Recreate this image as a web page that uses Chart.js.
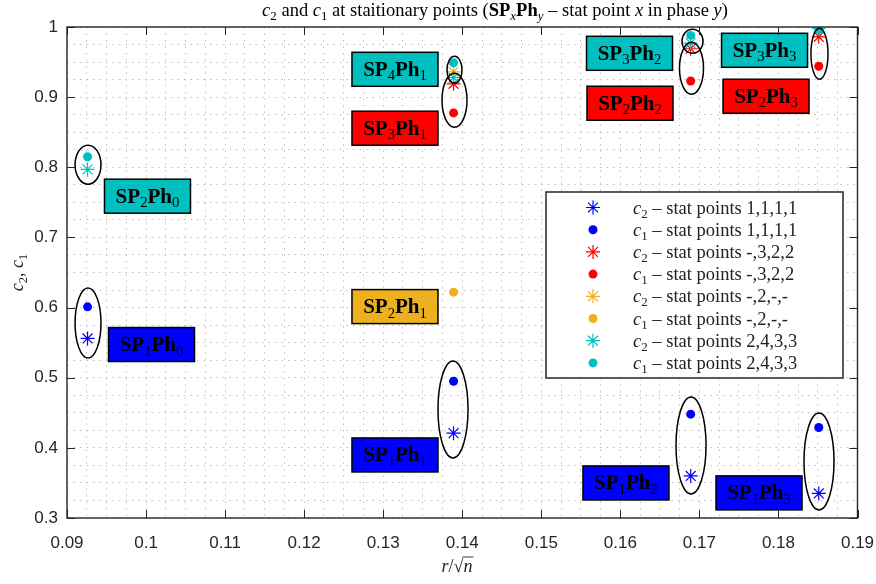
<!DOCTYPE html>
<html>
<head>
<meta charset="utf-8">
<script src="https://cdn.jsdelivr.net/npm/chart.js@4.4.1/dist/chart.umd.min.js"></script>
<style>
  html, body { margin: 0; padding: 0; background: #fff; }
</style>
</head>
<body>
<canvas id="chart" width="876" height="584"></canvas>
<script>
// Valores (r/sqrt(n) de cada fase)
const phaseX = [0.0926, 0.1389, 0.1689, 0.1851];

// c2 / c1 por grupo de puntos estacionarios (null = no existe en esa fase)
const c2Set1 = [0.556, 0.421, 0.360, 0.335];   // 1,1,1,1
const c1Set1 = [0.601, 0.495, 0.448, 0.429];
const c2Set2 = [null, 0.919, 0.969, 0.986];    // -,3,2,2
const c1Set2 = [null, 0.8775, 0.923, 0.944];
const c2Set3 = [null, 0.936, null, null];      // -,2,-,-
const c1Set3 = [null, 0.622, null, null];
const c2Set4 = [0.797, 0.928, 0.977, 0.998];   // 2,4,3,3
const c1Set4 = [0.815, 0.949, 0.988, 0.996];

const seriesLabels = [
    '{i:c}{s:2} \u2013 stat points 1,1,1,1',
    '{i:c}{s:1} \u2013 stat points 1,1,1,1',
    '{i:c}{s:2} \u2013 stat points -,3,2,2',
    '{i:c}{s:1} \u2013 stat points -,3,2,2',
    '{i:c}{s:2} \u2013 stat points -,2,-,-',
    '{i:c}{s:1} \u2013 stat points -,2,-,-',
    '{i:c}{s:2} \u2013 stat points 2,4,3,3',
    '{i:c}{s:1} \u2013 stat points 2,4,3,3'
];

const xTickLabels = ['0.09', '0.1', '0.11', '0.12', '0.13', '0.14', '0.15', '0.16', '0.17', '0.18', '0.19'];
const yTickLabels = ['0.3', '0.4', '0.5', '0.6', '0.7', '0.8', '0.9', '1'];

// Etiquetas SPxPhy (centro de la caja en unidades de datos)
const boxText = [
    '{b:SP}{s:2}{b:Ph}{s:0}', '{b:SP}{s:1}{b:Ph}{s:0}',
    '{b:SP}{s:4}{b:Ph}{s:1}', '{b:SP}{s:3}{b:Ph}{s:1}', '{b:SP}{s:2}{b:Ph}{s:1}', '{b:SP}{s:1}{b:Ph}{s:1}',
    '{b:SP}{s:3}{b:Ph}{s:2}', '{b:SP}{s:2}{b:Ph}{s:2}', '{b:SP}{s:1}{b:Ph}{s:2}',
    '{b:SP}{s:3}{b:Ph}{s:3}', '{b:SP}{s:2}{b:Ph}{s:3}', '{b:SP}{s:1}{b:Ph}{s:3}'
];
const boxX = [0.10018, 0.10069, 0.13149, 0.13149, 0.13149, 0.13149, 0.16116, 0.16122, 0.16071, 0.17824, 0.17843, 0.17754];
const boxY = [0.7588, 0.5473, 0.9397, 0.8557, 0.6014, 0.3899, 0.9625, 0.8913, 0.3500, 0.9668, 0.9013, 0.3358];
const boxColor = ['#00bfbf', '#0000ff', '#00bfbf', '#ff0000', '#edb120', '#0000ff',
                  '#00bfbf', '#ff0000', '#0000ff', '#00bfbf', '#ff0000', '#0000ff'];

// Elipses que agrupan puntos (centro y semiejes en unidades de datos)
const ellX  = [0.09266, 0.09266, 0.13883, 0.13902, 0.13902, 0.16913, 0.16900, 0.18519, 0.16894, 0.18513];
const ellY  = [0.8037, 0.5779, 0.4547, 0.9390, 0.8956, 0.9796, 0.9412, 0.9618, 0.4034, 0.3806];
const ellRx = [0.00164, 0.00164, 0.0019, 0.00095, 0.00158, 0.00133, 0.00152, 0.00108, 0.0019, 0.0019];
const ellRy = [0.0278, 0.0499, 0.0691, 0.0192, 0.0385, 0.0171, 0.0370, 0.0363, 0.0691, 0.0691];

const seriesColors = ['#0000ff', '#0000ff', '#ff0000', '#ff0000', '#edb120', '#edb120', '#00bfbf', '#00bfbf'];
const SERIF = '"Liberation Serif", "DejaVu Serif", serif';
const SANS = '"Liberation Sans", Arial, sans-serif';
const AX = '#262626';

// Texto con formato simple: {i:..} cursiva, {b:..} negrita, {s:..} subindice
const RICH_RE = /\{(\w+):([^}]*)\}|([^{]+)/g;
function parseRich(src) {
    const parts = [];
    for (const m of src.matchAll(RICH_RE)) {
        if (m[3] !== undefined) parts.push({ t: m[3], f: '' });
        else parts.push({ t: m[2], f: m[1] });
    }
    return parts;
}
function richFont(f, size, family) {
    const sz = f.includes('s') ? size * 0.7 : size;
    return (f.includes('i') ? 'italic ' : '') + (f.includes('b') ? 'bold ' : '') + sz + 'px ' + family;
}
function drawRich(ctx, src, x, y, size, family, align) {
    const parts = parseRich(src);
    let total = 0;
    parts.forEach(p => {
        ctx.font = richFont(p.f, size, family);
        p.w = ctx.measureText(p.t).width;
        total += p.w;
    });
    let cx = align === 'center' ? x - total / 2 : (align === 'right' ? x - total : x);
    ctx.textAlign = 'left';
    ctx.textBaseline = 'alphabetic';
    parts.forEach(p => {
        ctx.font = richFont(p.f, size, family);
        ctx.fillText(p.t, cx, p.f.includes('s') ? y + size * 0.22 : y);
        p.x = cx;
        cx += p.w;
    });
    return parts;
}

const seriesY = [c2Set1, c1Set1, c2Set2, c1Set2, c2Set3, c1Set3, c2Set4, c1Set4];
const datasets = seriesY.map((ys, i) => {
    const isStar = i % 2 === 0;
    return {
        label: seriesLabels[i],
        data: phaseX.map((x, j) => ys[j] == null ? null : { x: x, y: ys[j] }).filter(Boolean),
        pointStyle: isStar ? 'star' : 'circle',
        pointRadius: isStar ? 7 : 4.5,
        borderColor: seriesColors[i],
        backgroundColor: seriesColors[i],
        borderWidth: isStar ? 1.2 : 0,
        showLine: false,
        order: 8 - i
    };
});

function line(ctx, x1, y1, x2, y2) {
    ctx.beginPath();
    ctx.moveTo(x1, y1);
    ctx.lineTo(x2, y2);
    ctx.stroke();
}

const chromePlugin = {
    id: 'chrome',
    afterDatasetsDraw(chart) {
        const { ctx, scales: { x, y } } = chart;
        ctx.save();
        // elipses
        ctx.strokeStyle = '#000';
        ctx.lineWidth = 1.5;
        ellX.forEach((ex, i) => {
            const cx = x.getPixelForValue(ex), cy = y.getPixelForValue(ellY[i]);
            const rx = Math.abs(x.getPixelForValue(ex + ellRx[i]) - cx);
            const ry = Math.abs(y.getPixelForValue(ellY[i] + ellRy[i]) - cy);
            ctx.beginPath();
            ctx.ellipse(cx, cy, rx, ry, 0, 0, Math.PI * 2);
            ctx.stroke();
        });
        // cajas SPxPhy
        boxText.forEach((t, i) => {
            const cx = x.getPixelForValue(boxX[i]), cy = y.getPixelForValue(boxY[i]);
            const w = 86, h = 34;
            ctx.fillStyle = boxColor[i];
            ctx.fillRect(cx - w / 2, cy - h / 2, w, h);
            ctx.strokeStyle = '#000';
            ctx.lineWidth = 1.5;
            ctx.strokeRect(cx - w / 2, cy - h / 2, w, h);
            ctx.fillStyle = '#000';
            drawRich(ctx, t, cx, cy + 6.5, 21, SERIF, 'center');
        });
        ctx.restore();
    },
    afterDraw(chart) {
        const { ctx, chartArea: a, scales: { x, y } } = chart;
        ctx.save();
        // marcas hacia dentro
        ctx.strokeStyle = AX;
        ctx.lineWidth = 1;
        xTickLabels.forEach(l => {
            const px = Math.round(x.getPixelForValue(parseFloat(l))) + 0.5;
            line(ctx, px, a.bottom, px, a.bottom - 8);
            line(ctx, px, a.top, px, a.top + 8);
        });
        yTickLabels.forEach(l => {
            const py = Math.round(y.getPixelForValue(parseFloat(l))) + 0.5;
            line(ctx, a.left, py, a.left + 8, py);
            line(ctx, a.right, py, a.right - 8, py);
        });
        ctx.lineWidth = 1.4;
        ctx.strokeRect(a.left, a.top, a.width, a.height);

        // titulo y ejes
        ctx.fillStyle = '#000';
        drawRich(ctx, '{i:c}{s:2} and {i:c}{s:1} at staitionary points ({b:SP}{is:x}{b:Ph}{is:y} \u2013 stat point {i:x} in phase {i:y})',
            495, 16, 18.5, SERIF, 'center');
        ctx.fillStyle = AX;
        const parts = drawRich(ctx, '{i:r}/\u221a{i:n}', 457, 572, 18, SERIF, 'center');
        const n = parts[parts.length - 1];
        ctx.strokeStyle = AX;
        ctx.lineWidth = 0.9;
        line(ctx, n.x - 1, 572 - 15, n.x + n.w + 1, 572 - 15);
        ctx.translate(18, (a.top + a.bottom) / 2);
        ctx.rotate(-Math.PI / 2);
        drawRich(ctx, '{i:c}{s:2}, {i:c}{s:1}', 0, 5, 18, SERIF, 'center');
        ctx.setTransform(1, 0, 0, 1, 0, 0);

        // leyenda
        const lx = 546, ly = a.top + 165, lw = 297, lh = 186;
        ctx.fillStyle = '#fff';
        ctx.fillRect(lx, ly, lw, lh);
        ctx.strokeStyle = '#333';
        ctx.lineWidth = 1.6;
        ctx.strokeRect(lx, ly, lw, lh);
        chart.data.datasets.forEach((ds, i) => {
            const ry = ly + 15.5 + i * 22.2;
            ctx.strokeStyle = ds.borderColor;
            ctx.fillStyle = ds.backgroundColor;
            ctx.lineWidth = ds.borderWidth || 1;
            Chart.helpers.drawPoint(ctx, {
                pointStyle: ds.pointStyle, radius: ds.pointRadius, rotation: 0, borderWidth: ds.borderWidth
            }, lx + 47, ry);
            ctx.fillStyle = '#222';
            drawRich(ctx, ds.label, lx + 87, ry + 6, 18.5, SERIF, 'left');
        });
        ctx.restore();
    }
};

function majorLabel(value, labels) {
    const hit = labels.find(l => Math.abs(parseFloat(l) - value) < 1e-7);
    return hit === undefined ? '' : hit;
}

new Chart(document.getElementById('chart'), {
    type: 'scatter',
    data: { datasets: datasets },
    options: {
        responsive: false,
        animation: false,
        layout: { padding: { top: 27, right: 18.5, bottom: 0, left: 0 } },
        plugins: { legend: { display: false }, tooltip: { enabled: false } },
        scales: {
            x: {
                type: 'linear',
                min: 0.09,
                max: 0.19,
                afterFit(scale) {
                    scale.height = 66;
                    scale.paddingLeft = 0;
                    scale.paddingRight = 0;
                },
                grid: { color: '#c0c0c0', lineWidth: 1, drawTicks: false },
                border: { display: false, dash: [1.5, 5] },
                ticks: {
                    stepSize: 0.0025,
                    autoSkip: false,
                    maxRotation: 0,
                    padding: 15,
                    color: AX,
                    font: { family: SANS, size: 17 },
                    callback: v => majorLabel(v, xTickLabels)
                }
            },
            y: {
                type: 'linear',
                min: 0.3,
                max: 1,
                afterFit(scale) {
                    scale.width = 67;
                    scale.paddingTop = 0;
                    scale.paddingBottom = 0;
                },
                grid: { color: '#c0c0c0', lineWidth: 1, drawTicks: false },
                border: { display: false, dash: [1.5, 5] },
                ticks: {
                    stepSize: 0.025,
                    autoSkip: false,
                    padding: 9,
                    color: AX,
                    font: { family: SANS, size: 17 },
                    callback: v => majorLabel(v, yTickLabels)
                }
            }
        }
    },
    plugins: [chromePlugin]
});
</script>
</body>
</html>
